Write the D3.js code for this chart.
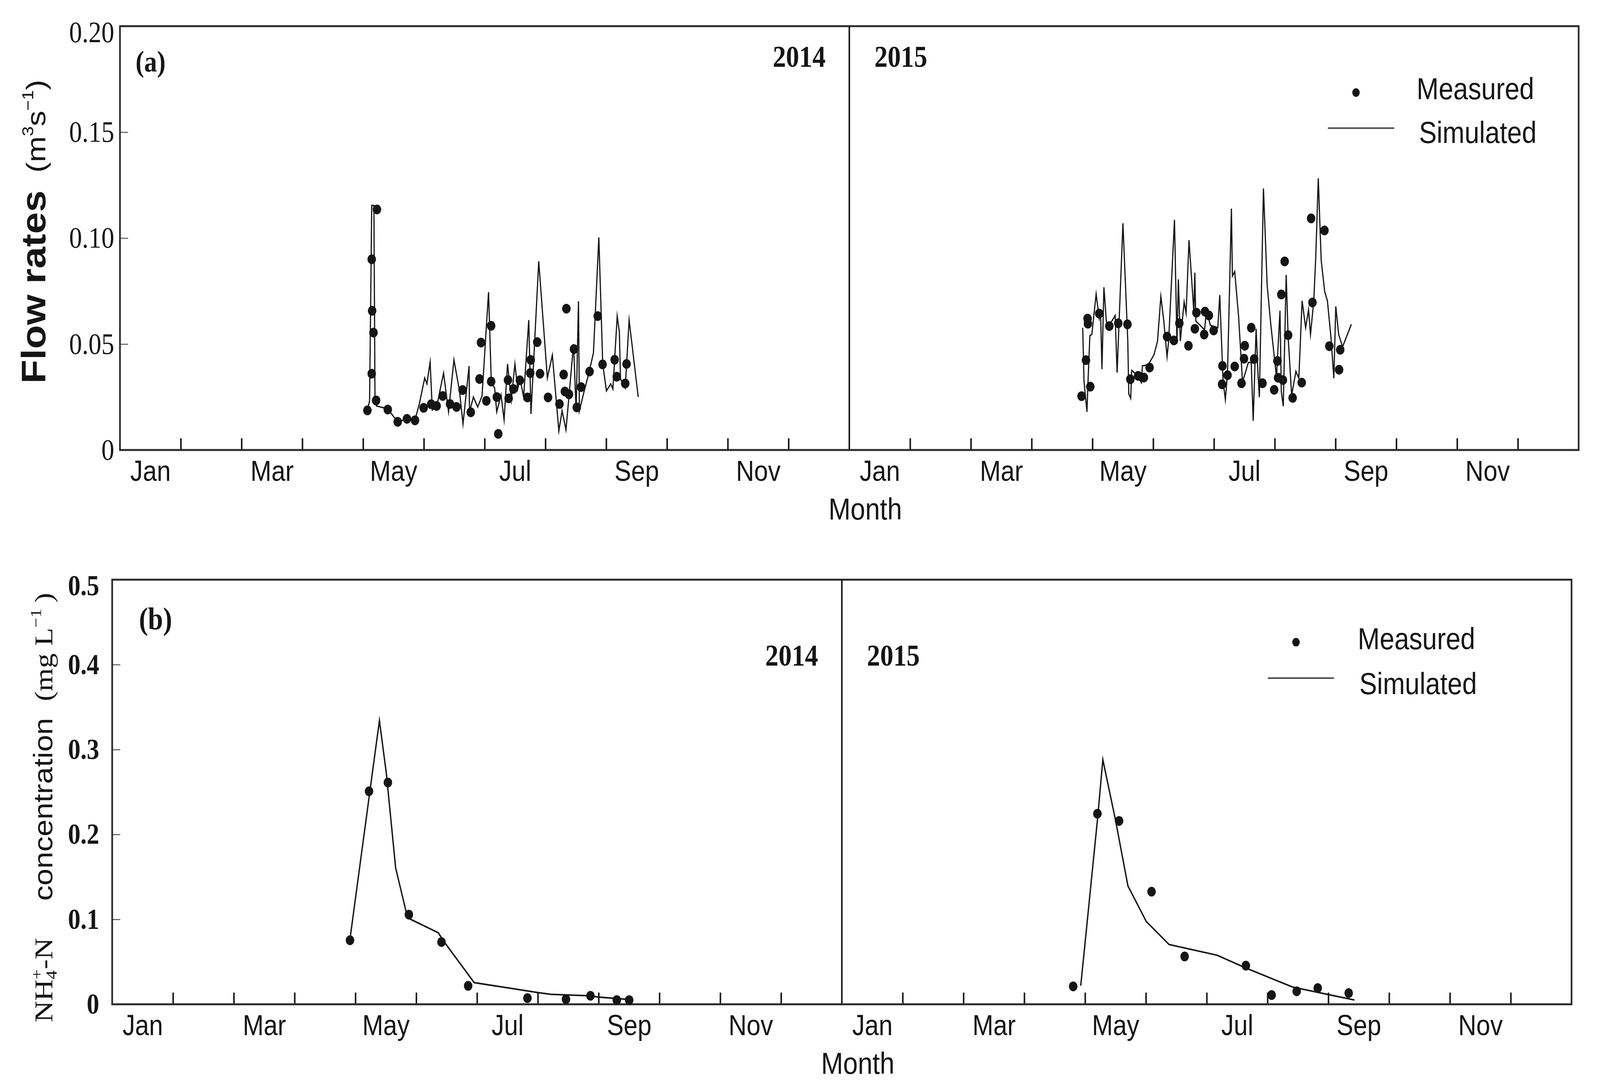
<!DOCTYPE html>
<html>
<head>
<meta charset="utf-8">
<script src="https://cdn.jsdelivr.net/npm/d3@7"></script>
<style>
  html, body { margin: 0; padding: 0; background: #fff; overflow: hidden; width: 100%; height: 100%; }
  svg { display: block; width: 100vw; height: 100vh; }
</style>
</head>
<body>
<svg id="chart" viewBox="0 0 4721 2793" preserveAspectRatio="none"></svg>
<script>
// ---------------- DATA (x = month position from 1 Jan of that year, y = value) ----------------
const monthNames = ["Jan", "Mar", "May", "Jul", "Sep", "Nov"];
const monthLabelPos = [0, 2, 4, 6, 8, 10];
const years = ["2014", "2015"];
const flowTicks = [0, 0.05, 0.10, 0.15, 0.20];
const flowTickLabels = ["0", "0.05", "0.10", "0.15", "0.20"];
const nh4Ticks = [0, 0.1, 0.2, 0.3, 0.4, 0.5];
const nh4TickLabels = ["0", "0.1", "0.2", "0.3", "0.4", "0.5"];

const flowMeasured2014 = [
  [4.071,0.0187],[4.142,0.036],[4.149,0.0657],[4.171,0.0554],[4.142,0.090],[4.228,0.1135],[4.214,0.0234],
  [4.406,0.0191],[4.569,0.0133],[4.722,0.0147],[4.854,0.014],[4.996,0.0199],[5.121,0.0216],[5.21,0.0208],
  [5.31,0.0255],[5.43,0.0217],[5.537,0.0203],[5.637,0.0283],[5.772,0.0178],[5.915,0.0335],[5.94,0.0507],
  [6.028,0.0232],[6.107,0.0586],[6.107,0.0323],[6.224,0.0076],[6.2,0.025],[6.384,0.033],[6.395,0.0244],
  [6.473,0.0288],[6.58,0.0329],[6.705,0.0248],[6.75,0.0363],[6.758,0.0425],[6.865,0.0509],[6.911,0.036],
  [7.043,0.0248],[7.231,0.0217],[7.3,0.0356],[7.32,0.0276],[7.345,0.0667],[7.388,0.0263],[7.47,0.0476],
  [7.516,0.0201],[7.587,0.0297],[7.726,0.037],[7.861,0.0632],[7.94,0.0404],[8.139,0.0426],[8.174,0.0346],
  [8.313,0.0314],[8.335,0.0406]
];
const flowSimulated2014 = [
  [4.071,0.0191],[4.107,0.0232],[4.142,0.1154],[4.178,0.1154],[4.196,0.0236],[4.221,0.0208],[4.406,0.0194],
  [4.569,0.0133],[4.722,0.0147],[4.854,0.0142],[4.925,0.0217],[5.014,0.034],[5.05,0.0312],[5.103,0.0415],
  [5.139,0.0189],[5.21,0.0203],[5.324,0.0363],[5.406,0.018],[5.495,0.0425],[5.584,0.0283],[5.644,0.0123],
  [5.744,0.0396],[5.751,0.018],[5.815,0.025],[5.886,0.0203],[5.957,0.0255],[6.064,0.0745],[6.11,0.0316],
  [6.164,0.0293],[6.199,0.018],[6.27,0.026],[6.32,0.0142],[6.377,0.0406],[6.438,0.0236],[6.498,0.0406],
  [6.544,0.0288],[6.58,0.034],[6.641,0.025],[6.726,0.0613],[6.762,0.017],[6.89,0.089],[7.032,0.034],
  [7.114,0.0448],[7.221,0.009],[7.274,0.0185],[7.338,0.0095],[7.388,0.0255],[7.463,0.05],[7.505,0.0185],
  [7.544,0.0702],[7.559,0.0185],[7.63,0.0269],[7.719,0.0368],[7.79,0.0458],[7.879,0.1003],[7.943,0.0406],
  [8.004,0.0279],[8.075,0.0312],[8.11,0.0288],[8.181,0.0632],[8.217,0.0556],[8.235,0.0335],[8.313,0.0293],
  [8.377,0.0613],[8.527,0.025]
];
const flowMeasured2015 = [
  [3.821,0.0254],[3.894,0.0424],[3.92,0.062],[3.926,0.0596],[3.965,0.0299],[4.112,0.0644],[4.278,0.0585],
  [4.425,0.0598],[4.576,0.0593],[4.624,0.0334],[4.752,0.035],[4.847,0.0342],[4.94,0.0389],[5.228,0.0535],
  [5.34,0.0517],[5.43,0.0598],[5.58,0.0492],[5.685,0.0572],[5.711,0.0648],[5.839,0.0545],[5.852,0.0653],
  [5.916,0.0635],[5.995,0.0564],[6.139,0.0397],[6.133,0.031],[6.223,0.0353],[6.341,0.0394],[6.453,0.0315],
  [6.494,0.0431],[6.507,0.0492],[6.613,0.0577],[6.661,0.0429],[6.798,0.0315],[6.99,0.0284],[7.044,0.042],
  [7.054,0.0341],[7.108,0.0734],[7.134,0.033],[7.163,0.089],[7.22,0.0542],[7.294,0.0246],[7.444,0.0318],
  [7.598,0.1093],[7.62,0.0696],[7.818,0.1036],[7.898,0.049],[8.058,0.0379],[8.077,0.0473]
];
const flowSimulated2015 = [
  [3.84,0.0577],[3.862,0.0323],[3.91,0.018],[3.926,0.0312],[3.958,0.054],[3.99,0.0545],[4.061,0.0736],
  [4.112,0.062],[4.134,0.0646],[4.157,0.0381],[4.189,0.0768],[4.23,0.0604],[4.278,0.0588],[4.374,0.0635],
  [4.406,0.0365],[4.502,0.107],[4.582,0.0514],[4.598,0.0265],[4.63,0.0244],[4.646,0.0376],[4.726,0.0355],
  [4.806,0.0318],[4.822,0.0397],[4.918,0.0402],[5.014,0.045],[5.071,0.0514],[5.126,0.0725],[5.174,0.0609],
  [5.228,0.044],[5.254,0.0514],[5.35,0.1086],[5.391,0.0503],[5.414,0.0805],[5.446,0.0514],[5.509,0.0699],
  [5.541,0.0646],[5.589,0.099],[5.669,0.0651],[5.685,0.0837],[5.701,0.0609],[5.845,0.0567],[5.877,0.0662],
  [5.941,0.0588],[6.063,0.0577],[6.095,0.0731],[6.149,0.0328],[6.187,0.0238],[6.223,0.0365],[6.287,0.1139],
  [6.303,0.0821],[6.341,0.0842],[6.405,0.063],[6.469,0.0323],[6.517,0.0365],[6.565,0.0413],[6.613,0.0413],
  [6.645,0.0138],[6.693,0.0572],[6.725,0.0355],[6.747,0.0249],[6.814,0.1234],[6.875,0.0778],[6.933,0.0598],
  [7.028,0.0344],[7.086,0.0657],[7.108,0.0275],[7.14,0.0207],[7.188,0.0826],[7.22,0.0535],[7.278,0.0259],
  [7.348,0.0371],[7.396,0.0339],[7.45,0.0704],[7.508,0.0577],[7.556,0.0662],[7.588,0.0545],[7.642,0.0704],
  [7.674,0.0906],[7.716,0.1282],[7.764,0.0895],[7.822,0.0747],[7.866,0.0704],[7.924,0.0535],[7.972,0.0339],
  [8.004,0.0678],[8.052,0.0545],[8.116,0.0487],[8.26,0.0593]
];
const nh4Measured2014 = [
  [3.911,0.0754],[4.224,0.2508],[4.534,0.2611],[4.879,0.1056],[5.416,0.0733],[5.854,0.0217],
  [6.829,0.0073],[7.463,0.0059],[7.865,0.010],[8.299,0.005],[8.502,0.005]
];
const nh4Simulated2014 = [
  [3.911,0.0769],[4.395,0.3341],[4.509,0.2717],[4.662,0.1605],[4.858,0.1018],[5.363,0.0842],[5.47,0.0725],
  [5.954,0.0255],[7.0,0.0138],[7.214,0.0117],[7.854,0.010],[7.996,0.0085],[8.495,0.0056]
];
const nh4Measured2015 = [
  [3.804,0.0211],[4.203,0.2244],[4.559,0.2159],[5.093,0.1326],[5.637,0.0563],[6.644,0.0455],
  [7.068,0.0109],[7.48,0.0153],[7.826,0.0191],[8.335,0.0132]
];
const nh4Simulated2015 = [
  [3.929,0.022],[4.206,0.2191],[4.292,0.2881],[4.498,0.2177],[4.705,0.1393],[5.007,0.0974],[5.381,0.0704],
  [6.171,0.0578],[6.633,0.0431],[7.416,0.0202],[8.004,0.0114],[8.431,0.005]
];

// ---------------- DRAWING ----------------
const svg = d3.select("#chart");
const INK = "#151515";
const SANS = "'Liberation Sans', Arial, sans-serif";
const SERIF = "'Liberation Serif', 'Times New Roman', serif";

function drawPanel(cfg) {
  const x = d3.scaleLinear().domain([0, 24]).range([cfg.left, cfg.right]);
  const y = d3.scaleLinear().domain(cfg.yDomain).range([cfg.bottom, cfg.top]);
  const g = svg.append("g");

  // x ticks (inside)
  const xTicks = d3.range(1, 24).filter(d => d !== 12);
  const xa = g.append("g").attr("transform", `translate(0,${cfg.bottom})`)
    .call(d3.axisBottom(x).tickValues(xTicks).tickSize(-30).tickFormat(""));
  xa.select(".domain").remove();
  xa.selectAll(".tick line").attr("stroke", INK).attr("stroke-width", 4.5);

  // month labels (centred in month)
  const labelVals = [];
  [0, 12].forEach(off => monthLabelPos.forEach(m => labelVals.push(off + m + 0.5)));
  const la = g.append("g").attr("transform", `translate(0,${cfg.bottom})`)
    .call(d3.axisBottom(x).tickValues(labelVals).tickSize(0).tickPadding(26)
      .tickFormat(d => monthNames[monthLabelPos.indexOf(Math.floor(d) % 12)]));
  la.select(".domain").remove();
  la.selectAll("text").attr("font-family", SANS).attr("font-size", 74).attr("fill", INK);

  // y axis
  const ya = g.append("g").attr("transform", `translate(${cfg.left},0)`)
    .call(d3.axisLeft(y).tickValues(cfg.ticks).tickSize(-24).tickPadding(cfg.labelPad)
      .tickFormat((d, i) => cfg.tickLabels[i]));
  ya.select(".domain").remove();
  ya.selectAll(".tick line").attr("stroke", "#555").attr("stroke-width", 2.5);
  ya.selectAll("text").attr("font-family", SERIF).attr("font-size", cfg.tickFont)
    .attr("font-weight", cfg.tickWeight).attr("fill", INK);
  ya.selectAll(".tick").filter(d => d === cfg.yDomain[1]).select("text").attr("y", 16);

  // frame and divider
  g.append("rect").attr("x", cfg.left).attr("y", cfg.top)
    .attr("width", cfg.right - cfg.left).attr("height", cfg.bottom - cfg.top)
    .attr("fill", "none").attr("stroke", "#2a2a2a").attr("stroke-width", 5);
  g.append("line").attr("x1", x(12)).attr("x2", x(12)).attr("y1", cfg.top).attr("y2", cfg.bottom)
    .attr("stroke", INK).attr("stroke-width", 4.5);

  // data
  const line = d3.line().x(d => x(d[0])).y(d => y(d[1]));
  cfg.series.forEach(s => {
    const off = s.year === 2015 ? 12 : 0;
    const pts = s.data.map(d => [d[0] + off, d[1]]);
    if (s.type === "line") {
      g.append("path").datum(pts).attr("d", line).attr("fill", "none")
        .attr("stroke", INK).attr("stroke-width", cfg.lineWidth).attr("stroke-linejoin", "miter")
        .attr("stroke-miterlimit", 10);
    } else {
      g.append("g").selectAll("circle").data(pts).join("circle")
        .attr("cx", d => x(d[0])).attr("cy", d => y(d[1])).attr("r", cfg.dotR).attr("fill", INK);
    }
  });

  // panel letter & years
  g.append("text").attr("x", cfg.letterX).attr("y", cfg.letterY).text(cfg.letter)
    .attr("font-family", SERIF).attr("font-weight", "bold").attr("font-size", cfg.letterFont).attr("fill", INK);
  g.append("text").attr("x", x(12) - 70).attr("y", cfg.yearY).attr("text-anchor", "end").text(years[0])
    .attr("font-family", SERIF).attr("font-weight", "bold").attr("font-size", 78).attr("fill", INK);
  g.append("text").attr("x", x(12) + 74).attr("y", cfg.yearY).attr("text-anchor", "start").text(years[1])
    .attr("font-family", SERIF).attr("font-weight", "bold").attr("font-size", 78).attr("fill", INK);

  // legend
  const L = cfg.legend;
  g.append("circle").attr("cx", L.dotX).attr("cy", L.dotY).attr("r", 11).attr("fill", INK);
  g.append("text").attr("x", L.measX).attr("y", L.measY).text("Measured")
    .attr("font-family", SANS).attr("font-size", 78).attr("fill", INK);
  g.append("line").attr("x1", L.lineX1).attr("x2", L.lineX2).attr("y1", L.lineY).attr("y2", L.lineY)
    .attr("stroke", "#333").attr("stroke-width", 3.5);
  g.append("text").attr("x", L.simX).attr("y", L.simY).text("Simulated")
    .attr("font-family", SANS).attr("font-size", 78).attr("fill", INK);

  // x title
  g.append("text").attr("x", x(12) + 47).attr("y", cfg.bottom + 178).attr("text-anchor", "middle")
    .text("Month").attr("font-family", SANS).attr("font-size", 78).attr("fill", INK);
  return g;
}

drawPanel({
  left: 354, right: 4658, top: 67, bottom: 1152, yDomain: [0, 0.2],
  ticks: flowTicks, tickLabels: flowTickLabels, labelPad: 17, tickFont: 76, tickWeight: "normal",
  lineWidth: 3.5, dotR: 12.5,
  letter: "(a)", letterX: 400, letterY: 183, letterFont: 76, yearY: 171,
  legend: { dotX: 4001, dotY: 237, measX: 4180, measY: 254, lineX1: 3918, lineX2: 4114, lineY: 328, simX: 4187, simY: 366 },
  series: [
    { type: "line", year: 2014, data: flowSimulated2014 },
    { type: "dot", year: 2014, data: flowMeasured2014 },
    { type: "line", year: 2015, data: flowSimulated2015 },
    { type: "dot", year: 2015, data: flowMeasured2015 }
  ]
});

drawPanel({
  left: 331, right: 4637, top: 1484, bottom: 2571, yDomain: [0, 0.5],
  ticks: nh4Ticks, tickLabels: nh4TickLabels, labelPad: 38, tickFont: 74, tickWeight: "bold",
  lineWidth: 4, dotR: 12.5,
  letter: "(b)", letterX: 410, letterY: 1611, letterFont: 80, yearY: 1704,
  legend: { dotX: 3824, dotY: 1644, measX: 4006, measY: 1662, lineX1: 3741, lineX2: 3936, lineY: 1736, simX: 4011, simY: 1777 },
  series: [
    { type: "line", year: 2014, data: nh4Simulated2014 },
    { type: "dot", year: 2014, data: nh4Measured2014 },
    { type: "line", year: 2015, data: nh4Simulated2015 },
    { type: "dot", year: 2015, data: nh4Measured2015 }
  ]
});

// y titles
svg.append("text").attr("transform", "translate(134,982) rotate(-90)")
  .attr("font-family", SANS).attr("font-weight", "bold").attr("font-size", 100).attr("fill", INK)
  .text("Flow rates");
const tA2 = svg.append("text").attr("transform", "translate(134,442) rotate(-90)")
  .attr("font-family", SANS).attr("font-size", 80).attr("fill", INK);
tA2.append("tspan").text("(m");
tA2.append("tspan").attr("font-size", 46).attr("dy", -36).text("3");
tA2.append("tspan").attr("dy", 36).text("s");
tA2.append("tspan").attr("font-size", 46).attr("dy", -36).text("−1");
tA2.append("tspan").attr("dy", 36).text(")");

const tB1 = svg.append("text").attr("transform", "translate(155,2617) rotate(-90)")
  .attr("font-family", SERIF).attr("font-size", 76).attr("fill", INK);
tB1.append("tspan").text("NH");
tB1.append("tspan").attr("font-size", 46).attr("dy", 12).text("4");
tB1.append("tspan").attr("font-size", 46).attr("dx", -23).attr("dy", -44).text("+");
tB1.append("tspan").attr("dy", 32).text("-N");
svg.append("text").attr("transform", "translate(155,2306) rotate(-90)")
  .attr("font-family", SANS).attr("font-size", 78).attr("fill", INK).text("concentration");
const tB3 = svg.append("text").attr("transform", "translate(155,1795) rotate(-90)")
  .attr("font-family", SERIF).attr("font-size", 76).attr("fill", INK);
tB3.append("tspan").text("(mg L");
tB3.append("tspan").attr("font-size", 46).attr("dy", -34).text("−1");
tB3.append("tspan").attr("dy", 34).text("\u2009)");
</script>
</body>
</html>
